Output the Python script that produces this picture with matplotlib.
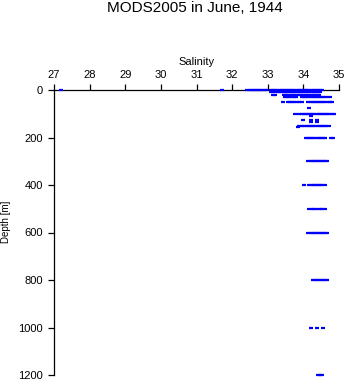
import matplotlib
matplotlib.use('Agg')
import matplotlib.pyplot as plt

plt.rcParams['font.family'] = ['Liberation Sans', 'DejaVu Sans']

# salinity readings at each standard depth (m)
depth_levels = [0, 10, 20, 30, 50, 75, 100, 110, 125, 135, 150, 155,
                200, 300, 400, 500, 600, 800, 1000, 1200]

sal_0 = [27.20, 31.72, 32.43, 32.49, 32.55, 32.61, 32.67, 32.73, 32.79, 32.85,
         32.91, 32.95, 33.09, 33.15, 33.21, 33.27, 33.33, 33.39, 33.45, 33.51,
         33.57, 33.63, 33.69, 33.75, 33.81, 33.87, 33.93, 33.99, 34.05, 34.11,
         34.17, 34.23, 34.29, 34.35, 34.41, 34.47, 34.53]
sal_10 = [33.10, 33.16, 33.22, 33.28, 33.34, 33.40, 33.46, 33.52, 33.58, 33.64,
          33.70, 33.76, 33.82, 33.88, 33.94, 34.00, 34.06, 34.12, 34.18, 34.24,
          34.30, 34.36, 34.42, 34.48]
sal_20 = [33.14, 33.20, 33.45, 33.51, 33.57, 33.63, 33.69, 33.75, 33.81, 33.87,
          33.93, 33.99, 34.05, 34.11, 34.17, 34.23, 34.29, 34.35, 34.41, 34.45]
sal_30 = [33.49, 33.55, 33.61, 33.67, 33.73, 33.80, 33.96, 34.02, 34.08, 34.14,
          34.20, 34.26, 34.32, 34.38, 34.44, 34.50, 34.56, 34.64, 34.74]
sal_50 = [33.43, 33.57, 33.63, 33.69, 33.75, 33.81, 33.87, 33.95, 34.14, 34.20,
          34.26, 34.32, 34.38, 34.44, 34.50, 34.56, 34.62, 34.68, 34.74, 34.79]
sal_75 = [34.15]
sal_100 = [33.76, 33.89, 33.95, 34.01, 34.07, 34.13, 34.19, 34.25, 34.31, 34.37,
           34.43, 34.49, 34.55, 34.61, 34.67, 34.73, 34.79, 34.85]
sal_110 = [34.20]
sal_125 = [33.99, 34.20, 34.38]
sal_135 = [34.20, 34.38]
sal_150 = [33.87, 33.97, 34.03, 34.09, 34.15, 34.21, 34.28, 34.34, 34.40, 34.46,
           34.52, 34.58, 34.64, 34.73]
sal_155 = [33.84]
sal_200 = [34.08, 34.14, 34.18, 34.25, 34.31, 34.37, 34.43, 34.49, 34.55, 34.60,
           34.78, 34.83]
sal_300 = [34.14, 34.20, 34.26, 34.32, 34.38, 34.44, 34.50, 34.56, 34.62, 34.66]
sal_400 = [34.02, 34.17, 34.23, 34.29, 34.35, 34.41, 34.47, 34.53, 34.60]
sal_500 = [34.17, 34.23, 34.31, 34.37, 34.46, 34.52, 34.60]
sal_600 = [34.14, 34.20, 34.26, 34.32, 34.38, 34.44, 34.50, 34.56, 34.62, 34.66]
sal_800 = [34.26, 34.32, 34.38, 34.44, 34.50, 34.56, 34.62, 34.66]
sal_1000 = [34.22, 34.39, 34.56]
sal_1200 = [34.41, 34.46, 34.53]

salinity = [sal_0, sal_10, sal_20, sal_30, sal_50, sal_75, sal_100, sal_110,
            sal_125, sal_135, sal_150, sal_155, sal_200, sal_300, sal_400,
            sal_500, sal_600, sal_800, sal_1000, sal_1200]

fig = plt.figure(figsize=(3.48, 3.84), dpi=100)
ax = fig.add_axes([54/348, 1-375/384, (339-54)/348, (375-90)/384])

for d, s in zip(depth_levels, salinity):
    ax.plot(s, [d]*len(s), '_', color='#0000ff', markersize=2.3,
            markeredgewidth=1.6, clip_on=False, zorder=3)

ax.set_xlim(27, 35)
ax.set_ylim(1200, 0)
ax.xaxis.tick_top()
ax.xaxis.set_label_position('top')
ax.set_xticks(range(27, 36))
ax.set_yticks(range(0, 1201, 200))
ax.spines['right'].set_visible(False)
ax.spines['bottom'].set_visible(False)
ax.tick_params(axis='x', direction='out', length=4.5, width=0.9, labelsize=8, pad=3)
ax.tick_params(axis='y', direction='out', length=4, width=0.9, labelsize=8, pad=4)
for sp in ['top', 'left']:
    ax.spines[sp].set_linewidth(0.9)
ax.set_xlabel('Salinity', fontsize=8, labelpad=3)
ax.set_ylabel('Depth [m]', fontsize=7)
ax.yaxis.set_label_coords(-0.152, 0.537)
ax.patch.set_visible(False)

fig.text(194.5/348, 1-8/384, 'MODS2005 in June, 1944', ha='center', va='center',
         fontsize=11)

plt.savefig('out.png', dpi=100)
